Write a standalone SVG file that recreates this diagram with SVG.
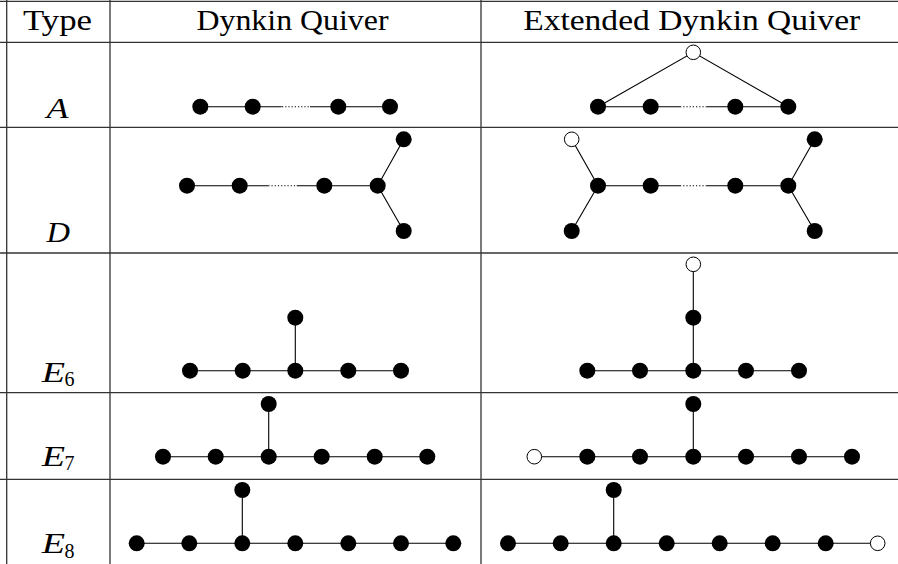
<svg xmlns="http://www.w3.org/2000/svg" width="898" height="564" viewBox="0 0 898 564">
  <style>
    .grid { stroke: #333; stroke-width: 1.3; fill: none; }
    .head { font-family: "Liberation Serif", "DejaVu Serif", serif; font-size: 30px; fill: #000; }
    .lab { font-family: "Liberation Serif", "DejaVu Serif", serif; font-style: italic; font-size: 30px; fill: #000; }
    .sub { font-family: "Liberation Serif", "DejaVu Serif", serif; font-style: normal; font-size: 20px; fill: #000; }
    .edge { stroke: #000; stroke-width: 1.1; fill: none; }
    .dots { stroke: #000; stroke-width: 1.1; stroke-dasharray: 1.2 2; fill: none; }
    .n { fill: #000; }
    .o { fill: #fff; stroke: #000; stroke-width: 1; }
  </style>

  <!-- table grid -->
  <g id="table">
    <line class="grid" x1="0" y1="1.3" x2="898" y2="1.3"/>
    <line class="grid" x1="0" y1="42.3" x2="898" y2="42.3"/>
    <line class="grid" x1="0" y1="127.3" x2="898" y2="127.3"/>
    <line class="grid" x1="0" y1="253" x2="898" y2="253"/>
    <line class="grid" x1="0" y1="392.7" x2="898" y2="392.7"/>
    <line class="grid" x1="0" y1="479.3" x2="898" y2="479.3"/>
    <line class="grid" x1="6.7" y1="0" x2="6.7" y2="564"/>
    <line class="grid" x1="110" y1="0" x2="110" y2="564"/>
    <line class="grid" x1="481" y1="0" x2="481" y2="564"/>
  </g>

  <!-- header and row labels -->
  <g id="labels">
    <text class="head" x="57.5" y="29.5" text-anchor="middle" textLength="69" lengthAdjust="spacingAndGlyphs">Type</text>
    <text class="head" x="292.5" y="29.5" text-anchor="middle" textLength="192" lengthAdjust="spacingAndGlyphs">Dynkin Quiver</text>
    <text class="head" x="691.7" y="29.5" text-anchor="middle" textLength="337" lengthAdjust="spacingAndGlyphs">Extended Dynkin Quiver</text>
    <text class="lab" x="46.5" y="118.3" textLength="22" lengthAdjust="spacingAndGlyphs">A</text>
    <text class="lab" x="46.5" y="241.7" textLength="23.5" lengthAdjust="spacingAndGlyphs">D</text>
    <text class="lab" x="41.7" y="381.7" textLength="23.3" lengthAdjust="spacingAndGlyphs">E</text>
    <text class="sub" x="64.5" y="386">6</text>
    <text class="lab" x="41.7" y="466" textLength="23.3" lengthAdjust="spacingAndGlyphs">E</text>
    <text class="sub" x="64.5" y="470.3">7</text>
    <text class="lab" x="41.7" y="553.3" textLength="23.3" lengthAdjust="spacingAndGlyphs">E</text>
    <text class="sub" x="64.5" y="557.6">8</text>
  </g>

  <!-- connectors -->
  <g id="connectors">
    <!-- A -->
    <path class="edge" d="M200.3 106.7H281.7M310 106.7H390"/>
    <path class="dots" d="M282 106.7H310"/>
    <!-- A extended -->
    <path class="edge" d="M598 106.7H680M706.7 106.7H788.3M598 106.7L693.3 52.3L788.3 106.7"/>
    <path class="dots" d="M680 106.7H706.7"/>
    <!-- D -->
    <path class="edge" d="M187 185.7H268.3M296.7 185.7H377.7L403.7 139.3M377.7 185.7L403.7 231"/>
    <path class="dots" d="M268.3 185.7H296.7"/>
    <!-- D extended -->
    <path class="edge" d="M571.7 139.3L598 185.7L571.7 231M598 185.7H680M706.7 185.7H788.3L814.7 139.3M788.3 185.7L814.7 231"/>
    <path class="dots" d="M680 185.7H706.7"/>
    <!-- E6 -->
    <path class="edge" d="M190 370.7H401M295.3 370.7V317.7"/>
    <!-- E6 extended -->
    <path class="edge" d="M587.3 370.7H799M693.3 370.7V264.3"/>
    <!-- E7 -->
    <path class="edge" d="M163 456.7H427.3M268.7 456.7V404"/>
    <!-- E7 extended -->
    <path class="edge" d="M534.3 456.7H852M693.3 456.7V404"/>
    <!-- E8 -->
    <path class="edge" d="M136.7 543.3H453.3M242.3 543.3V490"/>
    <!-- E8 extended -->
    <path class="edge" d="M508 543.3H877.7M613.7 543.3V490"/>
  </g>

  <!-- A -->
  <g id="a">
    <circle class="n" cx="200.3" cy="106.7" r="8"/>
    <circle class="n" cx="252.7" cy="106.7" r="8"/>
    <circle class="n" cx="338.3" cy="106.7" r="8"/>
    <circle class="n" cx="390" cy="106.7" r="8"/>
  </g>
  <g id="a-ext">
    <circle class="n" cx="598" cy="106.7" r="8"/>
    <circle class="n" cx="650.7" cy="106.7" r="8"/>
    <circle class="n" cx="735.3" cy="106.7" r="8"/>
    <circle class="n" cx="788.3" cy="106.7" r="8"/>
    <circle class="o" cx="693.3" cy="52.3" r="7.3"/>
  </g>

  <!-- D -->
  <g id="d">
    <circle class="n" cx="187" cy="185.7" r="8"/>
    <circle class="n" cx="239.7" cy="185.7" r="8"/>
    <circle class="n" cx="324.3" cy="185.7" r="8"/>
    <circle class="n" cx="377.7" cy="185.7" r="8"/>
    <circle class="n" cx="403.7" cy="139.3" r="8"/>
    <circle class="n" cx="403.7" cy="231" r="8"/>
  </g>
  <g id="d-ext">
    <circle class="o" cx="571.7" cy="139.3" r="7.3"/>
    <circle class="n" cx="571.7" cy="231" r="8"/>
    <circle class="n" cx="598" cy="185.7" r="8"/>
    <circle class="n" cx="650.7" cy="185.7" r="8"/>
    <circle class="n" cx="735.3" cy="185.7" r="8"/>
    <circle class="n" cx="788.3" cy="185.7" r="8"/>
    <circle class="n" cx="814.7" cy="139.3" r="8"/>
    <circle class="n" cx="814.7" cy="231" r="8"/>
  </g>

  <!-- E6 -->
  <g id="e6">
    <circle class="n" cx="190" cy="370.7" r="8"/>
    <circle class="n" cx="242.7" cy="370.7" r="8"/>
    <circle class="n" cx="295.3" cy="370.7" r="8"/>
    <circle class="n" cx="348.3" cy="370.7" r="8"/>
    <circle class="n" cx="401" cy="370.7" r="8"/>
    <circle class="n" cx="295.3" cy="317.7" r="8"/>
  </g>
  <g id="e6-ext">
    <circle class="n" cx="587.3" cy="370.7" r="8"/>
    <circle class="n" cx="640" cy="370.7" r="8"/>
    <circle class="n" cx="693.3" cy="370.7" r="8"/>
    <circle class="n" cx="746" cy="370.7" r="8"/>
    <circle class="n" cx="799" cy="370.7" r="8"/>
    <circle class="n" cx="693.3" cy="317.7" r="8"/>
    <circle class="o" cx="693.3" cy="264.3" r="7.3"/>
  </g>

  <!-- E7 -->
  <g id="e7">
    <circle class="n" cx="163" cy="456.7" r="8"/>
    <circle class="n" cx="215.7" cy="456.7" r="8"/>
    <circle class="n" cx="268.7" cy="456.7" r="8"/>
    <circle class="n" cx="321.7" cy="456.7" r="8"/>
    <circle class="n" cx="374.7" cy="456.7" r="8"/>
    <circle class="n" cx="427.3" cy="456.7" r="8"/>
    <circle class="n" cx="268.7" cy="404" r="8"/>
  </g>
  <g id="e7-ext">
    <circle class="o" cx="534.3" cy="456.7" r="7.3"/>
    <circle class="n" cx="587.3" cy="456.7" r="8"/>
    <circle class="n" cx="640" cy="456.7" r="8"/>
    <circle class="n" cx="693.3" cy="456.7" r="8"/>
    <circle class="n" cx="746" cy="456.7" r="8"/>
    <circle class="n" cx="799" cy="456.7" r="8"/>
    <circle class="n" cx="852" cy="456.7" r="8"/>
    <circle class="n" cx="693.3" cy="404" r="8"/>
  </g>

  <!-- E8 -->
  <g id="e8">
    <circle class="n" cx="136.7" cy="543.3" r="8"/>
    <circle class="n" cx="189.3" cy="543.3" r="8"/>
    <circle class="n" cx="242.3" cy="543.3" r="8"/>
    <circle class="n" cx="295.3" cy="543.3" r="8"/>
    <circle class="n" cx="348.3" cy="543.3" r="8"/>
    <circle class="n" cx="401" cy="543.3" r="8"/>
    <circle class="n" cx="453.3" cy="543.3" r="8"/>
    <circle class="n" cx="242.3" cy="490" r="8"/>
  </g>
  <g id="e8-ext">
    <circle class="n" cx="508" cy="543.3" r="8"/>
    <circle class="n" cx="560.7" cy="543.3" r="8"/>
    <circle class="n" cx="613.7" cy="543.3" r="8"/>
    <circle class="n" cx="666.7" cy="543.3" r="8"/>
    <circle class="n" cx="719.7" cy="543.3" r="8"/>
    <circle class="n" cx="772.7" cy="543.3" r="8"/>
    <circle class="n" cx="825.7" cy="543.3" r="8"/>
    <circle class="o" cx="877.7" cy="543.3" r="7.3"/>
    <circle class="n" cx="613.7" cy="490" r="8"/>
  </g>
</svg>
